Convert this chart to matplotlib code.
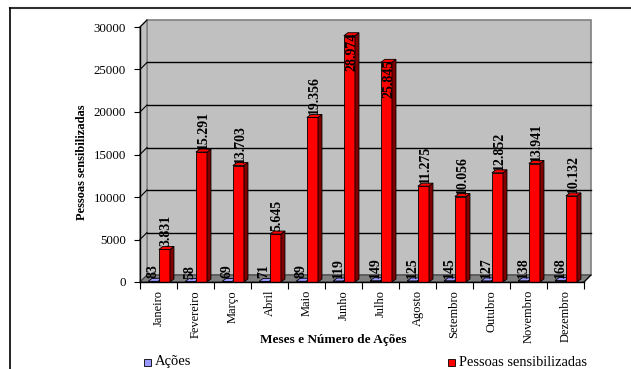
import matplotlib
matplotlib.use("Agg")
import matplotlib.pyplot as plt
from matplotlib.patches import Polygon, Rectangle

# Monthly data
meses = ["Janeiro", "Fevereiro", "Março", "Abril", "Maio", "Junho",
         "Julho", "Agosto", "Setembro", "Outubro", "Novembro", "Dezembro"]
acoes = [83, 58, 69, 71, 89, 119, 149, 125, 145, 127, 138, 168]
pessoas = [3831, 15291, 13703, 5645, 19356, 28974,
           25845, 11275, 10056, 12852, 13941, 10132]
yticks = [0, 5000, 10000, 15000, 20000, 25000, 30000]

W, H = 631, 369
fig = plt.figure(figsize=(W / 100, H / 100), dpi=100)
plt.rcParams["font.family"] = ["Liberation Serif", "DejaVu Serif"]

# front plane of the chart, in pixels
x0, x1, ytop, ybot = 140, 584, 27, 282
ax = fig.add_axes([x0 / W, 1 - ybot / H, (x1 - x0) / W, (ybot - ytop) / H])
ax.set_xlim(0, 12)
ax.set_ylim(0, 30000)
ax.patch.set_visible(False)

# pixel -> data scale factors
px_x = 12 / (x1 - x0)
px_y = 30000 / (ybot - ytop)

# depth of the back wall
DX, DY = 7 * px_x, 7 * px_y
wall_col = "#C0C0C0"
edge_col = "#808080"

# back wall
ax.add_patch(Polygon([(DX, DY), (12 + DX, DY), (12 + DX, 30000 + DY), (DX, 30000 + DY)],
                     closed=True, facecolor=wall_col, edgecolor=edge_col, lw=1.2,
                     clip_on=False, zorder=0))
# left side wall
ax.add_patch(Polygon([(0, 0), (DX, DY), (DX, 30000 + DY), (0, 30000)],
                     closed=True, facecolor=wall_col, edgecolor=edge_col, lw=1.0,
                     clip_on=False, zorder=0))
# floor
ax.add_patch(Polygon([(0, 0), (12, 0), (12 + DX, DY), (DX, DY)],
                     closed=True, facecolor="#808080", edgecolor="#404040", lw=0.8,
                     clip_on=False, zorder=0.5))

# gridlines on the back and side wall
for v in yticks[1:-1]:
    ax.plot([DX, 12 + DX], [v + DY, v + DY], color="black", lw=1.0,
            clip_on=False, zorder=0.6)
    ax.plot([0, DX], [v, v + DY], color="black", lw=0.8, clip_on=False, zorder=0.6)
ax.plot([0, DX], [30000, 30000 + DY], color="black", lw=0.8, clip_on=False, zorder=0.6)

# bar geometry (category units)
bw_a, off_a = 0.27, 0.22
bw_p, off_p = 0.30, 0.51
ddx, ddy = 4 * px_x, 3 * px_y


def bar3d(x, h, w, face, side, top):
    ax.bar(x, h, width=w, align="edge", color=face, edgecolor="black",
           lw=0.6, zorder=2)
    ax.add_patch(Polygon([(x + w, 0), (x + w + ddx, ddy), (x + w + ddx, h + ddy), (x + w, h)],
                         closed=True, facecolor=side, edgecolor="black", lw=0.6,
                         zorder=2, clip_on=False))
    ax.add_patch(Polygon([(x, h), (x + w, h), (x + w + ddx, h + ddy), (x + ddx, h + ddy)],
                         closed=True, facecolor=top, edgecolor="black", lw=0.6,
                         zorder=2, clip_on=False))


lab_kw = dict(rotation=90, ha="center", fontsize=10, fontweight="bold",
              color="black", zorder=3, clip_on=False)

for i, (a, p) in enumerate(zip(acoes, pessoas)):
    bar3d(i + off_a, a, bw_a, "#9999FF", "#4D4D99", "#9999FF")
    bar3d(i + off_p, p, bw_p, "#FF0000", "#800000", "#FF0000")
    ax.text(i + off_a + bw_a / 2, a + ddy, f"{a}", va="bottom", **lab_kw)
    txt = f"{p:,}".replace(",", ".")
    if p > 25000:
        ax.text(i + off_p + bw_p / 2 + ddx / 2, p + ddy, txt, va="top", **lab_kw)
    else:
        ax.text(i + off_p + bw_p / 2 + ddx / 2, p + ddy, txt, va="bottom", **lab_kw)

# axes and ticks
for s in ["top", "right"]:
    ax.spines[s].set_visible(False)
ax.spines["left"].set_linewidth(1.0)
ax.spines["bottom"].set_linewidth(1.0)
ax.set_yticks(yticks)
ax.set_yticklabels([str(v) for v in yticks], fontsize=9.3)
ax.tick_params(axis="y", length=4, width=0.8, pad=6)
ax.set_xticks(range(13))
ax.set_xticklabels([])
ax.tick_params(axis="x", length=5, width=0.8)
ax.plot([12, 12 + DX], [0, DY], color="black", lw=0.8, clip_on=False, zorder=1)

for i, m in enumerate(meses):
    ax.text(i + 0.5, -8 * px_y, m, rotation=90, ha="center", va="top",
            fontsize=9, clip_on=False)

fig.text(333 / W, 1 - 340 / H, "Meses e Número de Ações", ha="center", va="center",
         fontsize=9.5, fontweight="bold")
fig.text(82 / W, 1 - 162 / H, "Pessoas sensibilizadas", ha="center", va="center",
         rotation=90, fontsize=9, fontweight="bold")

# legend entries
fig.patches.append(Rectangle((144 / W, 1 - 366 / H), 7 / W, 7 / H, transform=fig.transFigure,
                             facecolor="#9999FF", edgecolor="black", lw=0.6))
fig.text(155 / W, 1 - 362 / H, "Ações", ha="left", va="center", fontsize=10.5)
fig.patches.append(Rectangle((448 / W, 1 - 366 / H), 7 / W, 7 / H, transform=fig.transFigure,
                             facecolor="#FF0000", edgecolor="black", lw=0.6))
fig.text(459 / W, 1 - 362 / H, "Pessoas sensibilizadas", ha="left", va="center",
         fontsize=10.4)

# outer chart frame
fig.add_artist(plt.Line2D([10 / W, 630 / W], [1 - 8 / H, 1 - 8 / H],
                          transform=fig.transFigure, color="#303030", lw=1.5))
fig.add_artist(plt.Line2D([10 / W, 10 / W], [1 - 8 / H, 0],
                          transform=fig.transFigure, color="black", lw=1.2))

fig.savefig("out.png", dpi=100)
